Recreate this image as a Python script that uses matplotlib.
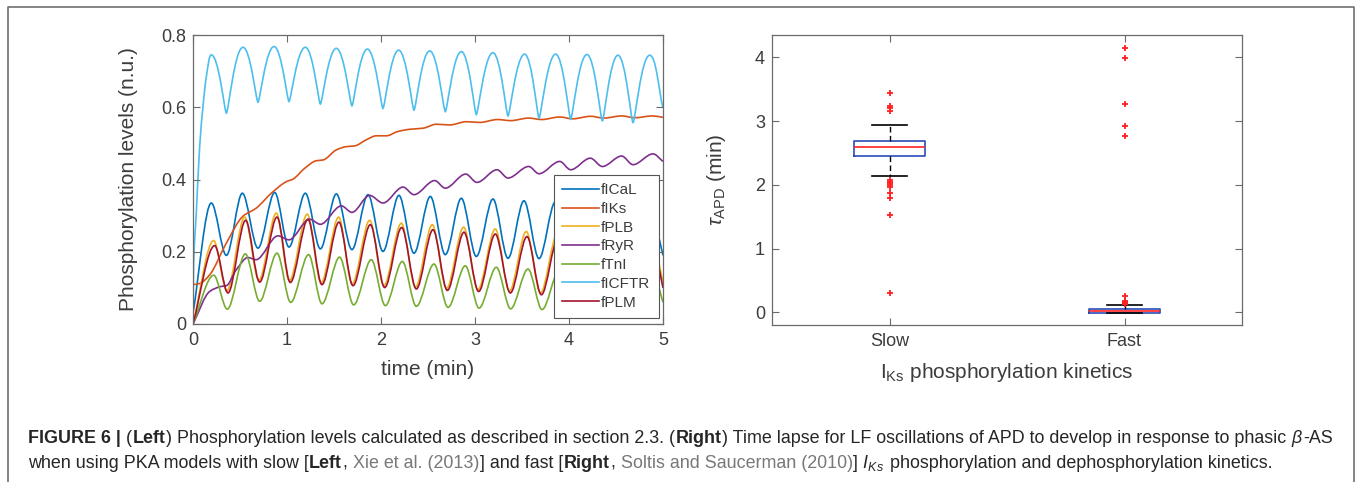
import matplotlib
matplotlib.use("Agg")
import matplotlib.pyplot as plt
import numpy as np
from matplotlib.path import Path
from matplotlib.patches import PathPatch
from matplotlib.lines import Line2D

plt.rcParams['font.family'] = ['Liberation Sans', 'DejaVu Sans']
plt.rcParams['mathtext.fontset'] = 'custom'
plt.rcParams['mathtext.rm'] = 'Liberation Sans'
plt.rcParams['mathtext.it'] = 'Liberation Sans:italic'
plt.rcParams['mathtext.bf'] = 'Liberation Sans:bold'

# ---- left panel: phosphorylation levels (peaks / troughs)
names = ['fICaL', 'fIKs', 'fPLB', 'fRyR', 'fTnI', 'fICFTR', 'fPLM']
colors = ['#0072BD', '#D95319', '#EDB120', '#7E2F8E', '#77AC30', '#4DBEEE', '#A2142F']

t_ical = [0, 0.195, 0.355, 0.525, 0.691, 0.869, 1.021, 1.195, 1.355, 1.525, 1.691, 1.862, 2.021,
          2.191, 2.351, 2.525, 2.684, 2.855, 3.014, 3.191, 3.351, 3.521, 3.681, 3.855, 4.015,
          4.19, 4.35, 4.52, 4.68, 4.855, 5.0]
v_ical = [0.03, 0.335, 0.190, 0.362, 0.210, 0.364, 0.213, 0.362, 0.208, 0.360, 0.206, 0.358, 0.201,
          0.356, 0.196, 0.353, 0.192, 0.348, 0.187, 0.346, 0.182, 0.341, 0.181, 0.338, 0.178,
          0.335, 0.175, 0.332, 0.172, 0.330, 0.19]

t_iks = [0, 0.07, 0.177, 0.355, 0.53, 0.674, 0.833, 0.993, 1.064, 1.188, 1.312, 1.383, 1.525,
         1.631, 1.72, 1.844, 1.95, 2.057, 2.18, 2.305, 2.447, 2.59, 2.73, 2.91, 3.05, 3.24,
         3.38, 3.57, 3.71, 3.90, 4.04, 4.23, 4.37, 4.56, 4.70, 4.89, 5.0]
v_iks = [0.109, 0.112, 0.136, 0.224, 0.298, 0.321, 0.362, 0.394, 0.401, 0.431, 0.452, 0.454, 0.482,
         0.491, 0.493, 0.510, 0.521, 0.521, 0.533, 0.539, 0.542, 0.553, 0.551, 0.560, 0.558, 0.566,
         0.563, 0.570, 0.566, 0.573, 0.568, 0.575, 0.570, 0.576, 0.571, 0.576, 0.572]

t_plb = [0, 0.22, 0.36, 0.55, 0.70, 0.887, 1.025, 1.216, 1.362, 1.55, 1.692, 1.88, 2.03, 2.216,
         2.366, 2.546, 2.696, 2.879, 3.03, 3.216, 3.366, 3.546, 3.696, 3.88, 4.03, 4.215, 4.365,
         4.545, 4.70, 4.88, 5.0]
v_plb = [0, 0.231, 0.092, 0.296, 0.121, 0.307, 0.120, 0.304, 0.114, 0.296, 0.111, 0.287, 0.106,
         0.279, 0.102, 0.275, 0.098, 0.268, 0.095, 0.263, 0.091, 0.256, 0.086, 0.252, 0.084,
         0.247, 0.081, 0.243, 0.079, 0.240, 0.115]

t_ryr = [0, 0.177, 0.30, 0.355, 0.46, 0.585, 0.67, 0.904, 1.02, 1.241, 1.355, 1.578, 1.691, 1.879,
         2.021, 2.234, 2.351, 2.571, 2.684, 2.901, 3.021, 3.234, 3.351, 3.571, 3.681, 3.901,
         4.018, 4.227, 4.355, 4.56, 4.681, 4.894, 5.0]
v_ryr = [0, 0.09, 0.104, 0.106, 0.15, 0.184, 0.178, 0.244, 0.233, 0.290, 0.276, 0.327, 0.309,
         0.356, 0.335, 0.379, 0.358, 0.397, 0.376, 0.415, 0.392, 0.427, 0.404, 0.436, 0.416,
         0.450, 0.427, 0.459, 0.436, 0.465, 0.441, 0.471, 0.450]

t_tni = [0, 0.22, 0.365, 0.557, 0.709, 0.894, 1.039, 1.23, 1.372, 1.56, 1.709, 1.897, 2.046,
         2.227, 2.376, 2.564, 2.713, 2.897, 3.043, 3.227, 3.379, 3.564, 3.713, 3.897, 4.045,
         4.23, 4.38, 4.565, 4.715, 4.90, 5.0]
v_tni = [0, 0.135, 0.041, 0.194, 0.063, 0.196, 0.060, 0.192, 0.056, 0.185, 0.053, 0.178, 0.051,
         0.173, 0.049, 0.166, 0.046, 0.161, 0.044, 0.157, 0.042, 0.152, 0.040, 0.148, 0.039,
         0.144, 0.038, 0.141, 0.037, 0.138, 0.06]

t_cftr = [0, 0.007, 0.035, 0.071, 0.106, 0.142, 0.195, 0.355, 0.532, 0.691, 0.862, 1.021, 1.195,
          1.355, 1.525, 1.691, 1.855, 2.021, 2.188, 2.351, 2.518, 2.684, 2.855, 3.014, 3.191,
          3.351, 3.528, 3.681, 3.858, 4.018, 4.191, 4.355, 4.521, 4.681, 4.858, 5.0]
v_cftr = [0.03, 0.169, 0.307, 0.491, 0.602, 0.685, 0.745, 0.584, 0.766, 0.614, 0.768, 0.616, 0.766,
          0.609, 0.763, 0.604, 0.761, 0.597, 0.758, 0.592, 0.756, 0.588, 0.754, 0.580, 0.751,
          0.576, 0.747, 0.570, 0.747, 0.567, 0.746, 0.562, 0.744, 0.557, 0.744, 0.598]

t_plm = [0, 0.23, 0.372, 0.56, 0.709, 0.894, 1.035, 1.223, 1.372, 1.553, 1.702, 1.887, 2.039,
         2.22, 2.376, 2.553, 2.706, 2.883, 3.039, 3.216, 3.376, 3.553, 3.706, 3.885, 4.04, 4.22,
         4.37, 4.55, 4.705, 4.885, 5.0]
v_plm = [0, 0.217, 0.086, 0.287, 0.116, 0.296, 0.115, 0.290, 0.109, 0.282, 0.106, 0.275, 0.101,
         0.267, 0.097, 0.261, 0.093, 0.254, 0.090, 0.249, 0.086, 0.242, 0.081, 0.238, 0.079,
         0.233, 0.076, 0.229, 0.074, 0.226, 0.10]

series_t = [t_ical, t_iks, t_plb, t_ryr, t_tni, t_cftr, t_plm]
series_v = [v_ical, v_iks, v_plb, v_ryr, v_tni, v_cftr, v_plm]
# handle length at peaks / troughs (fICFTR has sharp troughs)
handles_pt = [(1/3, 1/3)] * 5 + [(0.5, 0.12)] + [(1/3, 1/3)]

# ---- right panel: boxplot stats of tau_APD
box_labels = ['Slow', 'Fast']
box_med = [2.595, 0.022]
box_q1 = [2.459, -0.01]
box_q3 = [2.689, 0.053]
box_lo = [2.139, -0.01]
box_hi = [2.941, 0.12]
fliers_slow = [3.44, 3.24, 3.20, 3.16, 2.08, 2.05, 2.03, 2.00, 1.97, 1.87, 1.80, 1.52, 0.30]
fliers_fast = [4.14, 3.99, 3.26, 2.92, 2.77, 0.26, 0.17, 0.155, 0.15, 0.14, 0.135, 0.13]


def smooth_path(t, v, peak_h, trough_h):
    t = np.asarray(t, float)
    v = np.asarray(v, float)
    d = np.diff(v) / np.diff(t)
    n = len(t)
    m = np.zeros(n)
    m[0], m[-1] = d[0], d[-1]
    hand = np.full(n, 1/3)
    for k in range(1, n - 1):
        if d[k-1] * d[k] > 0:
            m[k] = 2 / (1 / d[k-1] + 1 / d[k])
        else:
            hand[k] = peak_h if d[k-1] > 0 else trough_h
    verts = [(t[0], v[0])]
    codes = [Path.MOVETO]
    for k in range(n - 1):
        h = t[k+1] - t[k]
        a, b = hand[k] * h, hand[k+1] * h
        verts += [(t[k] + a, v[k] + m[k] * a), (t[k+1] - b, v[k+1] - m[k+1] * b), (t[k+1], v[k+1])]
        codes += [Path.CURVE4] * 3
    return Path(verts, codes)


W, H = 1358, 482
fig = plt.figure(figsize=(W / 100, H / 100), dpi=100)
txt_c = '#3c3c3c'
ax_c = '#6a6a6a'

ax1 = fig.add_axes([193 / W, 1 - 324 / H, 470 / W, 289 / H])
ax2 = fig.add_axes([772 / W, 1 - 325 / H, 470 / W, 290 / H])

for t, v, c, nm, (ph, th) in zip(series_t, series_v, colors, names, handles_pt):
    ax1.add_patch(PathPatch(smooth_path(t, v, ph, th), fill=False, edgecolor=c, lw=1.2))
    ax1.plot([], [], color=c, lw=1.2, label=nm)

ax1.set_xlim(0, 5)
ax1.set_ylim(0, 0.8)
ax1.set_xticks([0, 1, 2, 3, 4, 5])
ax1.set_yticks([0, 0.2, 0.4, 0.6, 0.8])
ax1.set_yticklabels(['0', '0.2', '0.4', '0.6', '0.8'])
ax1.set_xlabel('time (min)', fontsize=15, color=txt_c)
ax1.set_ylabel('Phosphorylation levels (n.u.)', fontsize=15, color=txt_c)
ax1.xaxis.set_label_coords(0.5, -0.125)
ax1.yaxis.set_label_coords(-0.117, 0.5)
leg = ax1.legend(loc='lower right', bbox_to_anchor=(0.991, 0.021), borderaxespad=0,
                 fontsize=11, frameon=True, fancybox=False, framealpha=1, handlelength=2.4,
                 handletextpad=0.15, labelspacing=0.31, borderpad=0.55)
leg.get_frame().set_edgecolor('#555555')
leg.get_frame().set_linewidth(0.8)
for tx in leg.get_texts():
    tx.set_color(txt_c)

blue = '#2a4bb5'
red = '#ff2020'
stats = []
for i in range(2):
    stats.append(dict(med=box_med[i], q1=box_q1[i], q3=box_q3[i], whislo=box_lo[i],
                      whishi=box_hi[i], fliers=[fliers_slow, fliers_fast][i], label=box_labels[i]))
ax2.bxp(stats, positions=[1, 2], widths=0.3, showfliers=True,
        boxprops=dict(color=blue, lw=1.2),
        medianprops=dict(color=red, lw=1.2),
        whiskerprops=dict(color='black', lw=1.0, ls=(0, (4, 2.5))),
        capprops=dict(color='black', lw=1.2),
        flierprops=dict(marker='+', markeredgecolor=red, markersize=5, markeredgewidth=1.3,
                        linestyle='none'))
ax2.set_xlim(0.5, 2.5)
ax2.set_ylim(-0.2, 4.35)
ax2.set_yticks([0, 1, 2, 3, 4])
ax2.set_yticklabels(['0', '1', '2', '3', '4'])
ax2.set_xlabel(r'I$_{\mathrm{Ks}}$ phosphorylation kinetics', fontsize=15, color=txt_c)
ax2.set_ylabel(r'$\tau_{\mathrm{APD}}$ (min)', fontsize=15, color=txt_c)
ax2.xaxis.set_label_coords(0.5, -0.125)
ax2.yaxis.set_label_coords(-0.094, 0.5)

for ax in (ax1, ax2):
    for sp in ax.spines.values():
        sp.set_color(ax_c)
        sp.set_linewidth(0.9)
    ax.tick_params(direction='in', top=True, right=True, length=5, width=0.8, color=ax_c,
                   labelsize=13, labelcolor=txt_c)
    ax.tick_params(axis='x', pad=6)
    ax.tick_params(axis='y', pad=5)

# outer frame (open at the bottom)
fig.add_artist(Line2D([7.5 / W, 7.5 / W, 1354 / W, 1354 / W], [0, 1 - 6.5 / H, 1 - 6.5 / H, 0],
                      transform=fig.transFigure, color='#707070', lw=1.2))

# caption with mixed styles
renderer = fig.canvas.get_renderer()
main_c = '#262626'
link_c = '#787878'
cap_size = 12.9


def put_runs(x_px, y_px, runs):
    x = x_px
    for s, weight, style, color in runs:
        tx = fig.text(x / W, 1 - y_px / H, s, fontsize=cap_size, fontweight=weight,
                      fontstyle=style, color=color, va='baseline', ha='left')
        x += tx.get_window_extent(renderer).width + 0.5


line1 = [("FIGURE 6 |", 'bold', 'normal', main_c),
         (" (", 'normal', 'normal', main_c),
         ("Left", 'bold', 'normal', main_c),
         (") Phosphorylation levels calculated as described in section 2.3. (", 'normal', 'normal', main_c),
         ("Right", 'bold', 'normal', main_c),
         (") Time lapse for LF oscillations of APD to develop in response to phasic", 'normal', 'normal', main_c),
         (" \u03b2", 'normal', 'italic', main_c),
         ("-AS", 'normal', 'normal', main_c)]
line2 = [("when using PKA models with slow [", 'normal', 'normal', main_c),
         ("Left", 'bold', 'normal', main_c),
         (",", 'normal', 'normal', main_c),
         (" Xie et al. (2013)", 'normal', 'normal', link_c),
         ("] and fast [", 'normal', 'normal', main_c),
         ("Right", 'bold', 'normal', main_c),
         (",", 'normal', 'normal', main_c),
         (" Soltis and Saucerman (2010)", 'normal', 'normal', link_c),
         ("]", 'normal', 'normal', main_c),
         (r" $I_{Ks}$", 'normal', 'normal', main_c),
         (" phosphorylation and dephosphorylation kinetics.", 'normal', 'normal', main_c)]
put_runs(28, 443, line1)
put_runs(28, 468, line2)

fig.savefig('out.png', dpi=100)
